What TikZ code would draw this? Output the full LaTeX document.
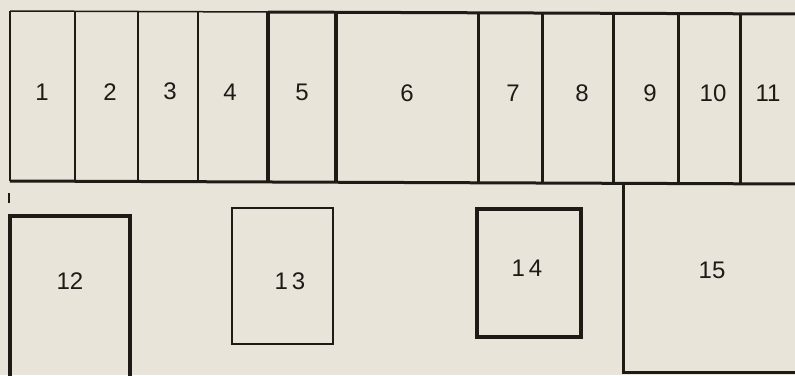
\documentclass[tikz,border=0pt]{standalone}
\usepackage{fontspec}
\setmainfont{Liberation Sans}
\definecolor{paper}{RGB}{233,228,218}
\definecolor{ink}{RGB}{30,26,22}
\begin{document}
\begin{tikzpicture}[x=1pt,y=-1pt,
  thinln/.style={draw=ink,line width=1.5pt},
  midln/.style={draw=ink,line width=3pt},
  thickln/.style={draw=ink,line width=3.6pt},
  lbl/.style={text=ink,font=\fontsize{24}{28}\selectfont,inner sep=0pt}]
\fill[paper] (0,0) rectangle (795,375);
\useasboundingbox (0,0) rectangle (795,375);
% top row outline
\draw[thinln] (10,11) -- (268,12);
\draw[midln] (268,12) -- (800,14);
\draw[midln] (10,181) -- (800,184);
\draw[thinln] (10,11) -- (10,181);
% dividers
\draw[thinln] (75,11) -- (75,181);
\draw[thinln] (138,11) -- (138,181);
\draw[thinln] (198,12) -- (198,182);
\draw[thickln] (268,12) -- (268,182);
\draw[thickln] (336,12) -- (336,182);
\draw[midln] (478,13) -- (478,183);
\draw[midln] (542,13) -- (542,183);
\draw[midln] (613,14) -- (613,183);
\draw[midln] (678,14) -- (678,183);
\draw[midln] (740,14) -- (740,184);
% labels top row
\node[lbl] (n1) at (42,92) {1};
\node[lbl] (n2) at (110,92) {2};
\node[lbl] (n3) at (170,91) {3};
\node[lbl] (n4) at (230,92) {4};
\node[lbl] (n5) at (302,92) {5};
\node[lbl] (n6) at (407,93) {6};
\node[lbl] (n7) at (513,93) {7};
\node[lbl] (n8) at (582,93) {8};
\node[lbl] (n9) at (650,93) {9};
\node[lbl] (n10) at (713,93) {10};
\node[lbl] (n11) at (768,93) {11};
% small tick
\draw[thinln] (9,193) -- (9,203);
% box 12 (open at bottom)
\draw[thickln] (10,380) -- (10,216) -- (130,216) -- (130,380);
\node[lbl] (n12) at (70,281) {12};
% box 13
\draw[thinln] (232,208) rectangle (333,344);
\node[lbl] (n13) at (290,281) {1\,3};
% box 14
\draw[thickln] (477,209) rectangle (581,337);
\node[lbl] (n14) at (527,268) {1\,4};
% box 15
\draw[midln] (623,184) -- (623,372) -- (800,372);
\node[lbl] (n15) at (712,270) {15};
\end{tikzpicture}
\end{document}
